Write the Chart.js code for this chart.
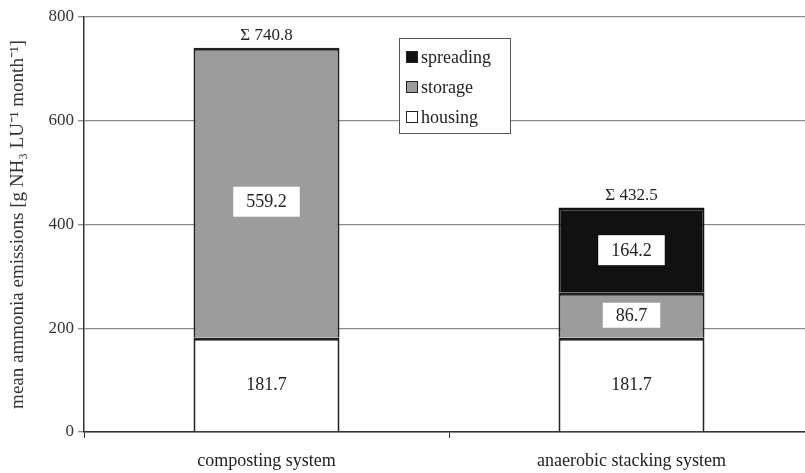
<!DOCTYPE html>
<html>
<head>
<meta charset="utf-8">
<script src="https://cdn.jsdelivr.net/npm/chart.js@4/dist/chart.umd.min.js"></script>
<style>
html,body{margin:0;padding:0;background:#fff;overflow:hidden;}
#wrap{position:relative;width:815px;height:473px;}
</style>
</head>
<body>
<div id="wrap"><canvas id="c" width="815" height="473"></canvas></div>
<script>
const categories = ["composting system", "anaerobic stacking system"];
const housing = [181.7, 181.7];
const storage = [559.2, 86.7];
const spreading = [null, 164.2];
const totals = [740.8, 432.5];
const yTicks = [0, 200, 400, 600, 800];
const legendLabels = ["spreading", "storage", "housing"];
const yTitle = "mean ammonia emissions [g NH\u2083 LU\u207B\u00B9 month\u207B\u00B9]";

const SERIF = '"Liberation Serif", "Times New Roman", serif';
const colors = {housing: "#ffffff", storage: "#9c9c9c", spreading: "#111111"};

const labelPlugin = {
  id: "labels",
  afterDatasetsDraw(chart) {
    const ctx = chart.ctx;
    const y = chart.scales.y;
    ctx.save();
    ctx.font = "18px " + SERIF;
    ctx.textAlign = "center";
    ctx.textBaseline = "middle";
    chart.data.datasets.forEach((ds, di) => {
      const meta = chart.getDatasetMeta(di);
      meta.data.forEach((bar, i) => {
        const v = ds.data[i];
        if (!v) return;
        const txt = v.toFixed(1);
        let cy = (bar.y + bar.base) / 2;
        if (di > 0) {
          if (v > 300) cy += 9;
          const w = ctx.measureText(txt).width + 26;
          const h = v > 150 ? 30 : 25;
          ctx.fillStyle = "#fff";
          ctx.fillRect(bar.x - w / 2, cy - h / 2, w, h);
        }
        ctx.fillStyle = "#222";
        ctx.fillText(txt, bar.x, cy + 1);
      });
    });
    const meta0 = chart.getDatasetMeta(0);
    ctx.font = "17px " + SERIF;
    totals.forEach((t, i) => {
      const x = meta0.data[i].x;
      ctx.fillStyle = "#222";
      ctx.fillText("\u03A3 " + t.toFixed(1), x, y.getPixelForValue(t) - 12);
    });
    // legend
    const lx = 399, ly = 38, lw = 111, lh = 95;
    ctx.fillStyle = "#fff";
    ctx.fillRect(lx, ly, lw, lh);
    ctx.strokeStyle = "#555";
    ctx.lineWidth = 1;
    ctx.strokeRect(lx + 0.5, ly + 0.5, lw, lh);
    const sw = [colors.spreading, colors.storage, colors.housing];
    ctx.textAlign = "left";
    ctx.font = "18px " + SERIF;
    legendLabels.forEach((l, k) => {
      const yy = ly + 19 + k * 30;
      ctx.fillStyle = sw[k];
      ctx.fillRect(lx + 7, yy - 6, 12, 12);
      ctx.strokeStyle = "#222";
      ctx.strokeRect(lx + 7.5, yy - 5.5, 11, 11);
      ctx.fillStyle = "#222";
      ctx.fillText(l, lx + 22, yy + 1);
    });
    ctx.restore();
  }
};

const bw = {top: 3, left: 2, right: 2, bottom: 0};
new Chart(document.getElementById("c"), {
  type: "bar",
  data: {
    labels: categories,
    datasets: [
      {label: "housing", data: housing, backgroundColor: colors.housing, borderColor: "#222", borderWidth: bw, borderSkipped: false},
      {label: "storage", data: storage, backgroundColor: colors.storage, borderColor: "#222", borderWidth: bw, borderSkipped: false},
      {label: "spreading", data: spreading, backgroundColor: colors.spreading, borderColor: "#111", borderWidth: bw, borderSkipped: false}
    ]
  },
  options: {
    responsive: false,
    animation: false,
    devicePixelRatio: 1,
    layout: {padding: {top: 17, right: 1, left: 0, bottom: 0}},
    datasets: {bar: {categoryPercentage: 1, barPercentage: 0.4}},
    plugins: {legend: {display: false}, tooltip: {enabled: false}},
    scales: {
      x: {
        stacked: true,
        grid: {display: true, offset: true, drawOnChartArea: false, color: "#333", tickLength: 6},
        border: {color: "#333", width: 1.5},
        ticks: {color: "#222", font: {family: SERIF, size: 18}, padding: 12, maxRotation: 0},
        afterFit(s) { s.height = 41; }
      },
      y: {
        stacked: true,
        min: 0, max: 800,
        afterBuildTicks(s) { s.ticks = yTicks.map(v => ({value: v})); },
        grid: {color: "#8a8a8a", lineWidth: 1.3, tickLength: 6},
        border: {color: "#333", width: 1.5},
        ticks: {color: "#333", font: {family: SERIF, size: 17}, padding: 4},
        title: {display: true, text: yTitle, color: "#333", font: {family: SERIF, size: 19}, padding: {top: 7, bottom: 0}},
        afterFit(s) { s.width = 84; }
      }
    }
  },
  plugins: [labelPlugin]
});
</script>
</body>
</html>
